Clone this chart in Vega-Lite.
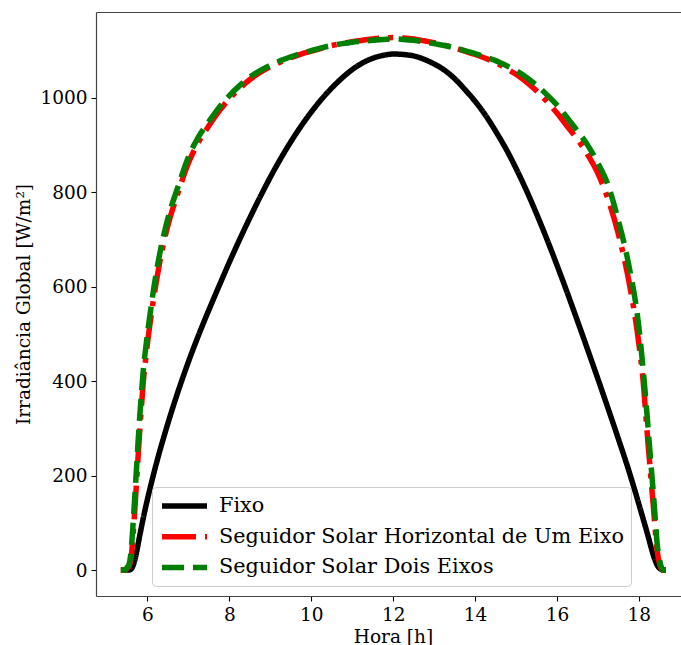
{
  "$schema": "https://vega.github.io/schema/vega-lite/v6.json",
  "width": 585,
  "height": 584,
  "autosize": {"type": "none"},
  "padding": {"left": 96, "top": 12, "right": 0, "bottom": 49},
  "background": "white",
  "config": {
    "font": "DejaVu Serif",
    "view": {"stroke": null},
    "axis": {
      "labelFont": "DejaVu Serif",
      "labelFontSize": 18.5,
      "labelColor": "#000000",
      "titleFont": "DejaVu Serif",
      "titleFontSize": 18.5,
      "titleFontWeight": "normal",
      "titleColor": "#000000",
      "tickColor": "#000000",
      "tickSize": 5,
      "tickWidth": 1.1,
      "domainColor": "#444444",
      "domainWidth": 1.2,
      "grid": false,
      "labelPadding": 4
    },
    "legend": {
      "labelFont": "DejaVu Serif",
      "labelFontSize": 20.8,
      "labelColor": "#000000",
      "labelLimit": 0,
      "symbolType": "M-1,0H4",
      "symbolSize": 324,
      "symbolStrokeWidth": 5.5,
      "labelOffset": 36,
      "rowPadding": 7.7,
      "padding": 7,
      "fillColor": "rgba(255,255,255,0.8)",
      "strokeColor": "#cccccc",
      "cornerRadius": 4
    }
  },
  "data": {
    "values": [
      {"hora": 5.35, "fixo": 0, "um_eixo": 0, "dois_eixos": 0},
      {"hora": 5.45, "fixo": 0, "um_eixo": 0, "dois_eixos": 0},
      {"hora": 5.5, "fixo": 0, "um_eixo": 3, "dois_eixos": 5},
      {"hora": 5.55, "fixo": 0, "um_eixo": 8, "dois_eixos": 12},
      {"hora": 5.6, "fixo": 2, "um_eixo": 25, "dois_eixos": 40},
      {"hora": 5.65, "fixo": 10, "um_eixo": 75, "dois_eixos": 100},
      {"hora": 5.7, "fixo": 24, "um_eixo": 140, "dois_eixos": 170},
      {"hora": 5.75, "fixo": 45, "um_eixo": 210, "dois_eixos": 240},
      {"hora": 5.8, "fixo": 68, "um_eixo": 280, "dois_eixos": 312},
      {"hora": 5.85, "fixo": 90, "um_eixo": 342, "dois_eixos": 370},
      {"hora": 5.9, "fixo": 111, "um_eixo": 400, "dois_eixos": 425},
      {"hora": 5.95, "fixo": 131, "um_eixo": 442, "dois_eixos": 465},
      {"hora": 6.0, "fixo": 150, "um_eixo": 480, "dois_eixos": 501},
      {"hora": 6.1, "fixo": 186, "um_eixo": 545, "dois_eixos": 565},
      {"hora": 6.2, "fixo": 220, "um_eixo": 602, "dois_eixos": 622},
      {"hora": 6.3, "fixo": 252, "um_eixo": 652, "dois_eixos": 670},
      {"hora": 6.4, "fixo": 282, "um_eixo": 694, "dois_eixos": 710},
      {"hora": 6.5, "fixo": 311, "um_eixo": 730, "dois_eixos": 745},
      {"hora": 6.75, "fixo": 379, "um_eixo": 800, "dois_eixos": 813},
      {"hora": 7.0, "fixo": 441, "um_eixo": 862, "dois_eixos": 875},
      {"hora": 7.25, "fixo": 498, "um_eixo": 907, "dois_eixos": 918},
      {"hora": 7.5, "fixo": 551, "um_eixo": 941, "dois_eixos": 950},
      {"hora": 7.75, "fixo": 602, "um_eixo": 972, "dois_eixos": 980},
      {"hora": 8.0, "fixo": 652, "um_eixo": 998, "dois_eixos": 1005},
      {"hora": 8.25, "fixo": 700, "um_eixo": 1020, "dois_eixos": 1026},
      {"hora": 8.5, "fixo": 746, "um_eixo": 1039, "dois_eixos": 1044},
      {"hora": 8.75, "fixo": 790, "um_eixo": 1054, "dois_eixos": 1058},
      {"hora": 9.0, "fixo": 832, "um_eixo": 1066, "dois_eixos": 1069},
      {"hora": 9.25, "fixo": 871, "um_eixo": 1076, "dois_eixos": 1079},
      {"hora": 9.5, "fixo": 907, "um_eixo": 1085, "dois_eixos": 1087},
      {"hora": 9.75, "fixo": 940, "um_eixo": 1093, "dois_eixos": 1094},
      {"hora": 10.0, "fixo": 970, "um_eixo": 1099, "dois_eixos": 1100},
      {"hora": 10.25, "fixo": 997, "um_eixo": 1105, "dois_eixos": 1106},
      {"hora": 10.5, "fixo": 1021, "um_eixo": 1111, "dois_eixos": 1111},
      {"hora": 10.75, "fixo": 1042, "um_eixo": 1115, "dois_eixos": 1115},
      {"hora": 11.0, "fixo": 1060, "um_eixo": 1119, "dois_eixos": 1118},
      {"hora": 11.25, "fixo": 1074, "um_eixo": 1122, "dois_eixos": 1120},
      {"hora": 11.5, "fixo": 1084, "um_eixo": 1125, "dois_eixos": 1122},
      {"hora": 11.75, "fixo": 1090, "um_eixo": 1127, "dois_eixos": 1124},
      {"hora": 12.0, "fixo": 1093, "um_eixo": 1128, "dois_eixos": 1125},
      {"hora": 12.25, "fixo": 1092, "um_eixo": 1127, "dois_eixos": 1124},
      {"hora": 12.5, "fixo": 1089, "um_eixo": 1125, "dois_eixos": 1122},
      {"hora": 12.75, "fixo": 1082, "um_eixo": 1121, "dois_eixos": 1119},
      {"hora": 13.0, "fixo": 1072, "um_eixo": 1117, "dois_eixos": 1115},
      {"hora": 13.25, "fixo": 1059, "um_eixo": 1112, "dois_eixos": 1111},
      {"hora": 13.5, "fixo": 1041, "um_eixo": 1106, "dois_eixos": 1106},
      {"hora": 13.75, "fixo": 1018, "um_eixo": 1099, "dois_eixos": 1100},
      {"hora": 14.0, "fixo": 993, "um_eixo": 1092, "dois_eixos": 1094},
      {"hora": 14.25, "fixo": 964, "um_eixo": 1084, "dois_eixos": 1087},
      {"hora": 14.5, "fixo": 930, "um_eixo": 1075, "dois_eixos": 1079},
      {"hora": 14.75, "fixo": 893, "um_eixo": 1063, "dois_eixos": 1069},
      {"hora": 15.0, "fixo": 851, "um_eixo": 1050, "dois_eixos": 1058},
      {"hora": 15.25, "fixo": 805, "um_eixo": 1034, "dois_eixos": 1044},
      {"hora": 15.5, "fixo": 755, "um_eixo": 1015, "dois_eixos": 1027},
      {"hora": 15.75, "fixo": 702, "um_eixo": 993, "dois_eixos": 1007},
      {"hora": 16.0, "fixo": 646, "um_eixo": 968, "dois_eixos": 985},
      {"hora": 16.25, "fixo": 588, "um_eixo": 940, "dois_eixos": 958},
      {"hora": 16.5, "fixo": 528, "um_eixo": 912, "dois_eixos": 930},
      {"hora": 16.75, "fixo": 467, "um_eixo": 880, "dois_eixos": 900},
      {"hora": 17.0, "fixo": 405, "um_eixo": 840, "dois_eixos": 862},
      {"hora": 17.25, "fixo": 342, "um_eixo": 785, "dois_eixos": 815},
      {"hora": 17.5, "fixo": 278, "um_eixo": 712, "dois_eixos": 740},
      {"hora": 17.75, "fixo": 212, "um_eixo": 615, "dois_eixos": 648},
      {"hora": 18.0, "fixo": 140, "um_eixo": 480, "dois_eixos": 515},
      {"hora": 18.1, "fixo": 110, "um_eixo": 405, "dois_eixos": 430},
      {"hora": 18.2, "fixo": 80, "um_eixo": 295, "dois_eixos": 330},
      {"hora": 18.25, "fixo": 64, "um_eixo": 242, "dois_eixos": 274},
      {"hora": 18.3, "fixo": 48, "um_eixo": 190, "dois_eixos": 220},
      {"hora": 18.35, "fixo": 33, "um_eixo": 140, "dois_eixos": 168},
      {"hora": 18.4, "fixo": 20, "um_eixo": 85, "dois_eixos": 110},
      {"hora": 18.45, "fixo": 10, "um_eixo": 40, "dois_eixos": 54},
      {"hora": 18.5, "fixo": 4, "um_eixo": 15, "dois_eixos": 25},
      {"hora": 18.55, "fixo": 1, "um_eixo": 3, "dois_eixos": 6},
      {"hora": 18.6, "fixo": 0, "um_eixo": 0, "dois_eixos": 0},
      {"hora": 18.66, "fixo": 0, "um_eixo": 0, "dois_eixos": 0}
    ]
  },
  "transform": [{"fold": ["fixo", "um_eixo", "dois_eixos"], "as": ["serie", "valor"]}],
  "layer": [
    {
      "mark": {"type": "line", "strokeWidth": 5.5, "interpolate": "monotone", "strokeCap": "butt"},
      "encoding": {
        "x": {
          "field": "hora", "type": "quantitative",
          "scale": {"domain": [4.743, 19.03], "nice": false, "zero": false},
          "axis": {"title": "Hora [h]", "values": [6, 8, 10, 12, 14, 16, 18], "titlePadding": 4, "titleX": 297}
        },
        "y": {
          "field": "valor", "type": "quantitative",
          "scale": {"domain": [-55, 1182], "nice": false, "zero": false},
          "axis": {"title": "Irradiância Global [W/m²]", "values": [0, 200, 400, 600, 800, 1000], "format": "d", "titlePadding": 6}
        },
        "color": {
          "field": "serie", "type": "nominal",
          "scale": {"domain": ["fixo", "um_eixo", "dois_eixos"], "range": ["#000000", "#ff0000", "#008000"]},
          "legend": {
            "title": null, "orient": "none", "legendX": 56, "legendY": 475,
            "labelExpr": "datum.value == 'fixo' ? 'Fixo' : datum.value == 'um_eixo' ? 'Seguidor Solar Horizontal de Um Eixo' : 'Seguidor Solar Dois Eixos'"
          }
        },
        "strokeDash": {
          "field": "serie", "type": "nominal",
          "scale": {"domain": ["fixo", "um_eixo", "dois_eixos"], "range": [[1, 0], [34, 9, 5, 9], [22, 9]]},
          "legend": {
            "title": null, "orient": "none", "legendX": 56, "legendY": 475,
            "labelExpr": "datum.value == 'fixo' ? 'Fixo' : datum.value == 'um_eixo' ? 'Seguidor Solar Horizontal de Um Eixo' : 'Seguidor Solar Dois Eixos'"
          }
        }
      }
    },
    {
      "mark": {"type": "point", "opacity": 0},
      "encoding": {
        "x": {"field": "hora", "type": "quantitative", "axis": {"orient": "top", "labels": false, "ticks": false, "title": null, "domain": true}},
        "y": {"field": "valor", "type": "quantitative"}
      }
    }
  ],
  "resolve": {"axis": {"x": "independent"}}
}
